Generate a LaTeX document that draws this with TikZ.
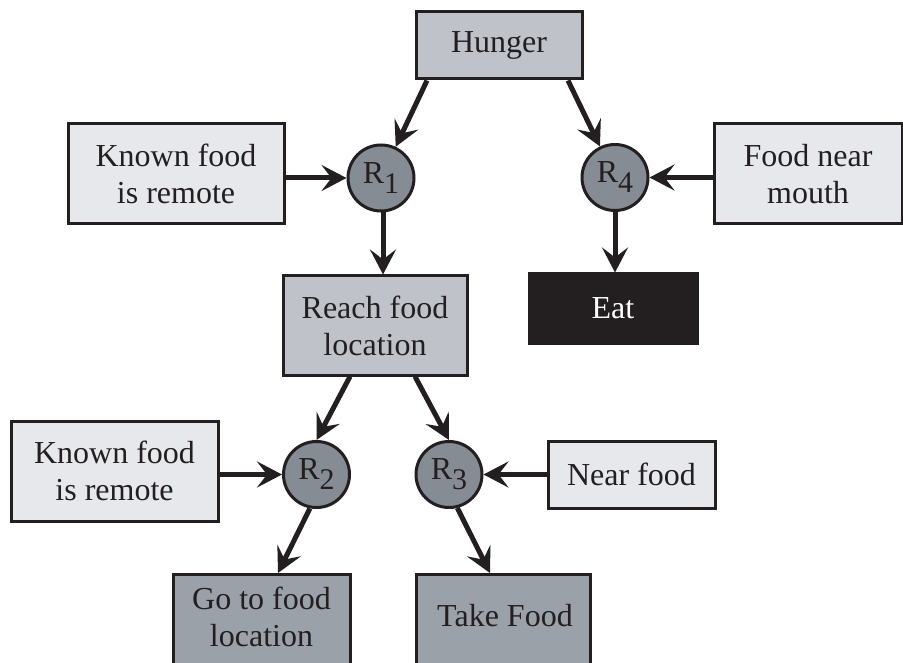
\documentclass[tikz,border=0pt]{standalone}
\usepackage{fontspec}
\setmainfont{Liberation Serif}
\usetikzlibrary{arrows.meta}
\definecolor{edge}{HTML}{231F20}
\definecolor{midfill}{HTML}{BFC2C9}
\definecolor{lightfill}{HTML}{E7E8EC}
\definecolor{circfill}{HTML}{868C93}
\definecolor{lowfill}{HTML}{9BA1A8}
\tikzset{
  box/.style={draw=edge, line width=3pt, rectangle, align=center, inner sep=0pt,
    font=\fontsize{32}{37}\selectfont, text=edge},
  midbox/.style={box, fill=midfill},
  lightbox/.style={box, fill=lightfill},
  lowbox/.style={box, fill=lowfill},
  darkbox/.style={box, fill=edge, text=white},
  rnode/.style={circle, draw=edge, line width=3pt, fill=circfill, minimum size=66pt,
    inner sep=0pt, font=\fontsize{32}{37}\selectfont, text=edge},
  txt/.style={align=center, inner sep=0pt, font=\fontsize{32}{37}\selectfont, text=edge},
  arr/.style={draw=edge, line width=5pt,
    -{Stealth[length=25pt, width=26pt, inset=10pt]}},
}
\newcommand{\rlab}[1]{R\raisebox{-10pt}{\fontsize{30}{30}\selectfont #1}}
\begin{document}
\begin{tikzpicture}[x=1pt, y=-1pt]
\useasboundingbox (0,0) rectangle (903,663);
\clip (0,0) rectangle (903,663);
\fill[white] (0,0) rectangle (903,663);

\node[midbox, minimum width=166, minimum height=67] (hunger) at (499,45.5) {Hunger};
\node[lightbox, minimum width=216, minimum height=100] (known1) at (176,174) {Known food\\is remote};
\node[rnode] (r1) at (381,178) {\rlab{1}};
\node[rnode] (r4) at (615,177.5) {\rlab{4}};
\node[lightbox, minimum width=188, minimum height=100] (foodnear) at (808,174) {Food near\\mouth};
\node[darkbox, minimum width=168, minimum height=69] (eat) at (613,308.5) {Eat};
\node[midbox, minimum width=184, minimum height=99] (reach) at (375,325.5) {Reach food\\location};
\node[lightbox, minimum width=207, minimum height=100] (known2) at (114.5,471) {Known food\\is remote};
\node[rnode] (r2) at (316.5,474.5) {\rlab{2}};
\node[rnode] (r3) at (449,474.5) {\rlab{3}};
\node[lightbox, minimum width=167, minimum height=67] (nearfood) at (631.5,474.5) {Near food};
\node[lowbox, minimum width=177, minimum height=130, anchor=north] (gobox) at (261.5,573) {};
\node[txt] (gotext) at (261.5,617) {Go to food\\location};
\node[lowbox, minimum width=174, minimum height=130, anchor=north] (takebox) at (503.5,573) {};
\node[txt] (taketext) at (505,616) {Take Food};

\draw[arr] ([xshift=-72pt]hunger.south) -- (r1);
\draw[arr] ([xshift=69pt]hunger.south) -- (r4);
\draw[arr] (known1.east |- r1) -- (r1.west);
\draw[arr] (foodnear.west |- r4) -- (r4.east);
\draw[arr] ([xshift=2pt]r1.south) -- ([xshift=2pt]r1.south |- reach.north);
\draw[arr] (r4.south) -- (r4.south |- eat.north);
\draw[arr] ([xshift=-25pt]reach.south) -- (r2.north);
\draw[arr] ([xshift=40pt]reach.south) -- (r3.north);
\draw[arr] (known2.east |- r2) -- (r2.west);
\draw[arr] (nearfood.west |- r3) -- (r3.east);
\draw[arr] (r2.259) -- ([xshift=16.5pt]gobox.north);
\draw[arr] (r3.284) -- ([xshift=-13.5pt]takebox.north);
\end{tikzpicture}
\end{document}
